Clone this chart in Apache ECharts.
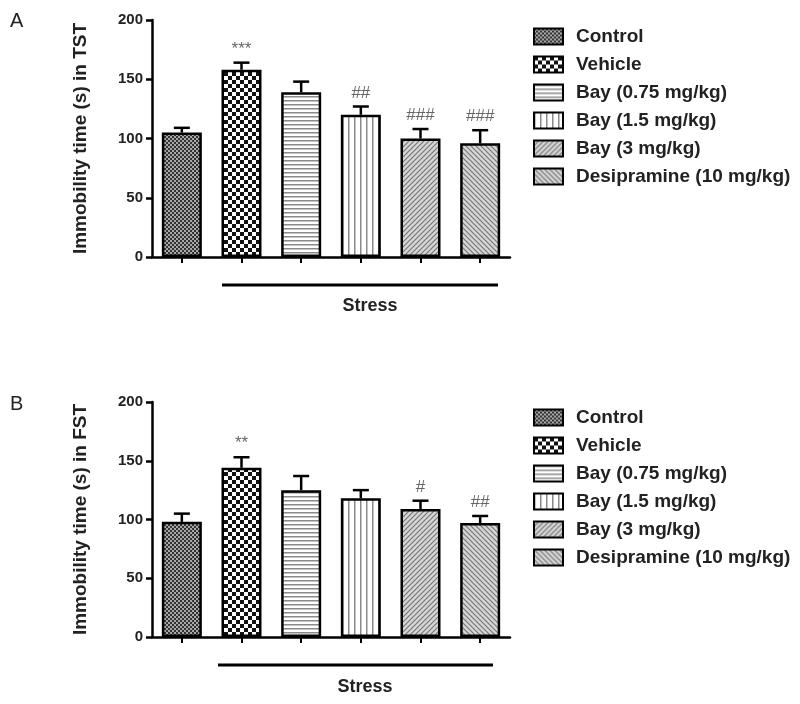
<!DOCTYPE html>
<html>
<head>
<meta charset="utf-8">
<script src="https://cdn.jsdelivr.net/npm/echarts@6/dist/echarts.min.js"></script>
<style>
html,body{margin:0;padding:0;background:#fff;}
#chart{width:800px;height:704px;}
</style>
</head>
<body>
<div id="chart"></div>
<script>
// ---- data ----
var groups = ['Control', 'Vehicle', 'Bay (0.75 mg/kg)', 'Bay (1.5 mg/kg)', 'Bay (3 mg/kg)', 'Desipramine (10 mg/kg)'];
var yTicks = [0, 50, 100, 150, 200];
var tstMean = [105, 158, 139, 120, 100, 96];
var tstErr  = [4, 6, 9, 7, 8, 11];
var tstMarks = ['', '***', '', '##', '###', '###'];
var fstMean = [98, 144, 125, 118, 109, 97];
var fstErr  = [7, 9, 12, 7, 7, 6];
var fstMarks = ['', '**', '', '', '#', '##'];

// ---- patterns ----
function tile(w, h, draw) {
  var c = document.createElement('canvas');
  c.width = w; c.height = h;
  var ctx = c.getContext('2d');
  draw(ctx, w, h);
  return {image: c, repeat: 'repeat'};
}
var patterns = [
  tile(4, 4, function (g) { // Control: fine dark checker
    g.fillStyle = '#a8a8a8'; g.fillRect(0, 0, 4, 4);
    g.fillStyle = '#333333'; g.fillRect(0, 0, 2, 2); g.fillRect(2, 2, 2, 2);
  }),
  tile(8, 8, function (g) { // Vehicle: coarse checker
    g.fillStyle = '#ffffff'; g.fillRect(0, 0, 8, 8);
    g.fillStyle = '#111111'; g.fillRect(0, 0, 4, 4); g.fillRect(4, 4, 4, 4);
  }),
  tile(4, 4, function (g) { // horizontal lines
    g.fillStyle = '#ffffff'; g.fillRect(0, 0, 4, 4);
    g.fillStyle = '#8a8a8a'; g.fillRect(0, 0, 4, 1.5);
  }),
  tile(6, 6, function (g) { // vertical lines
    g.fillStyle = '#ffffff'; g.fillRect(0, 0, 6, 6);
    g.fillStyle = '#8a8a8a'; g.fillRect(0, 0, 1.5, 6);
  }),
  tile(5, 5, function (g) { // "/" diagonal
    g.fillStyle = '#d6d6d6'; g.fillRect(0, 0, 5, 5);
    g.strokeStyle = '#777'; g.lineWidth = 1.2;
    g.beginPath(); g.moveTo(-1, 6); g.lineTo(6, -1); g.stroke();
    g.beginPath(); g.moveTo(-1, 1); g.lineTo(1, -1); g.stroke();
    g.beginPath(); g.moveTo(4, 6); g.lineTo(6, 4); g.stroke();
  }),
  tile(5, 5, function (g) { // "\" diagonal
    g.fillStyle = '#d6d6d6'; g.fillRect(0, 0, 5, 5);
    g.strokeStyle = '#777'; g.lineWidth = 1.2;
    g.beginPath(); g.moveTo(-1, -1); g.lineTo(6, 6); g.stroke();
    g.beginPath(); g.moveTo(-1, 4); g.lineTo(1, 6); g.stroke();
    g.beginPath(); g.moveTo(4, -1); g.lineTo(6, 1); g.stroke();
  })
];

var FONT = 'Liberation Sans, Arial, sans-serif';

function barSeries(panel, means) {
  return groups.map(function (name, i) {
    return {
      type: 'bar', name: name, xAxisIndex: panel, yAxisIndex: panel,
      barWidth: 40, barGap: '-100%',
      itemStyle: {color: patterns[i], borderColor: '#000', borderWidth: 2.5},
      emphasis: {disabled: true},
      data: groups.map(function (g, j) { return j === i ? means[i] : '-'; }),
      z: 2
    };
  });
}
function errSeries(panel, means, errs, marks) {
  return {
    type: 'custom', xAxisIndex: panel, yAxisIndex: panel, z: 5, silent: true,
    data: means.map(function (m, i) { return [i, m, errs[i]]; }),
    encode: {x: 0, y: 1},
    renderItem: function (params, api) {
      var i = api.value(0), m = api.value(1), e = api.value(2);
      var mark = marks[params.dataIndex];
      var p0 = api.coord([i, m]), p1 = api.coord([i, m + e]);
      var children = [
        {type: 'line', shape: {x1: p0[0], y1: p0[1], x2: p1[0], y2: p1[1]}, style: {stroke: '#000', lineWidth: 2.5}},
        {type: 'line', shape: {x1: p1[0] - 8, y1: p1[1], x2: p1[0] + 8, y2: p1[1]}, style: {stroke: '#000', lineWidth: 2.5}}
      ];
      if (mark) {
        children.push({type: 'text', x: p1[0], y: p1[1] - 5, style: {
          text: mark, fill: '#666', font: '17px ' + FONT, align: 'center', verticalAlign: 'bottom'}});
      }
      return {type: 'group', children: children};
    }
  };
}
function yAxisCfg(panel, title) {
  return {
    type: 'value', gridIndex: panel, min: yTicks[0], max: yTicks[yTicks.length - 1], interval: 50,
    name: title, nameLocation: 'middle', nameGap: 62, nameRotate: 90,
    nameTextStyle: {fontSize: 19, fontWeight: 'bold', fontFamily: FONT, color: '#222'},
    axisLine: {show: true, lineStyle: {color: '#000', width: 2.5}},
    axisTick: {show: true, length: 6, lineStyle: {color: '#000', width: 2.5}},
    axisLabel: {fontSize: 15, fontWeight: 'bold', fontFamily: FONT, color: '#222', margin: 9},
    splitLine: {show: false}
  };
}
function xAxisCfg(panel) {
  return {
    type: 'category', gridIndex: panel, data: groups, boundaryGap: true,
    axisLine: {show: true, lineStyle: {color: '#000', width: 2.5}},
    axisTick: {show: true, alignWithLabel: true, interval: 0, length: 6, lineStyle: {color: '#000', width: 2}},
    axisLabel: {show: false, interval: 0}
  };
}
function legendCfg(top) {
  return {
    orient: 'vertical', left: 533, top: top, padding: 0, itemWidth: 29, itemHeight: 16, itemGap: 9,
    icon: 'rect', selectedMode: false,
    textStyle: {fontSize: 19, fontWeight: 'bold', fontFamily: FONT, color: '#222', padding: [0, 0, 0, 8]},
    itemStyle: {borderColor: '#000', borderWidth: 2},
    data: groups
  };
}

var chart = echarts.init(document.getElementById('chart'), null, {renderer: 'canvas'});
chart.setOption({
  backgroundColor: '#fff',
  animation: false,
  grid: [
    {left: 152, top: 20, width: 358, height: 237},
    {left: 152, top: 402, width: 358, height: 235}
  ],
  xAxis: [xAxisCfg(0), xAxisCfg(1)],
  yAxis: [yAxisCfg(0, 'Immobility time (s) in TST'), yAxisCfg(1, 'Immobility time (s) in FST')],
  legend: [legendCfg(27), legendCfg(408)],
  series: [].concat(
    barSeries(0, tstMean), [errSeries(0, tstMean, tstErr, tstMarks)],
    barSeries(1, fstMean), [errSeries(1, fstMean, fstErr, fstMarks)]
  ),
  graphic: [
    {type: 'text', left: 10, top: 11, style: {text: 'A', font: '20px ' + FONT, fill: '#222'}},
    {type: 'text', left: 10, top: 394, style: {text: 'B', font: '20px ' + FONT, fill: '#222'}},
    {type: 'line', shape: {x1: 222, y1: 285, x2: 498, y2: 285}, style: {stroke: '#000', lineWidth: 3}},
    {type: 'text', x: 370, y: 306, style: {text: 'Stress', font: 'bold 18px ' + FONT, fill: '#222', align: 'center', verticalAlign: 'middle'}},
    {type: 'line', shape: {x1: 218, y1: 665, x2: 493, y2: 665}, style: {stroke: '#000', lineWidth: 3}},
    {type: 'text', x: 365, y: 687, style: {text: 'Stress', font: 'bold 18px ' + FONT, fill: '#222', align: 'center', verticalAlign: 'middle'}}
  ]
});
</script>
</body>
</html>
